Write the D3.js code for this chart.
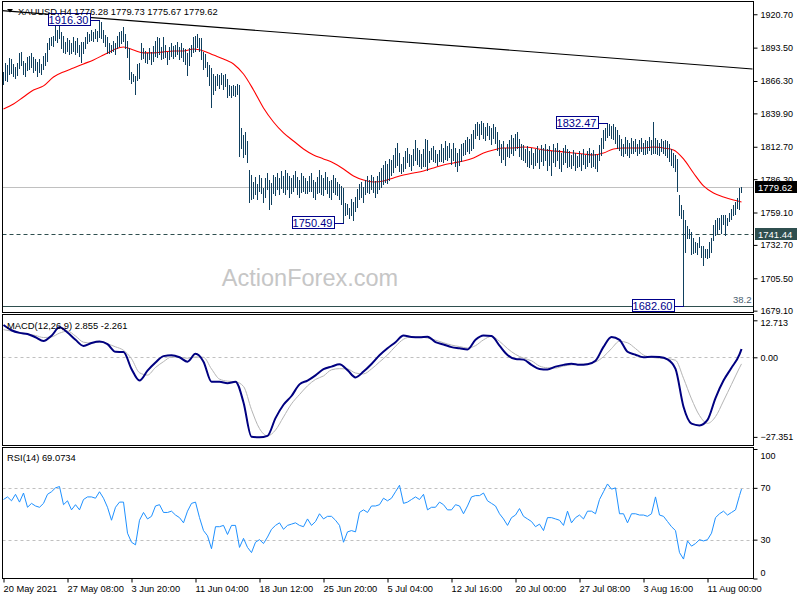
<!DOCTYPE html>
<html><head><meta charset="utf-8">
<script src="https://cdn.jsdelivr.net/npm/d3@7"></script>
<style>
html,body{margin:0;padding:0;background:#fff;}
svg{display:block;}
</style></head><body>
<svg id="c" width="800" height="600"></svg>
<script>
// ---------------- DATA ----------------
const symbolTitle = "XAUUSD,H4";
const lastOHLC = [1776.28, 1779.73, 1775.67, 1779.62];

// H4 bar highs / lows (one entry per bar)
const highs = [
1874,1881,1879,1885,1884,1880,1878,1881,1889,1890,
1883,1881,1886,1887,1889,1886,1884,1882,1884,1880,
1887,1889,1897,1901,1902,1903,1912,1908,1913,1906,
1903,1898,1901,1900,1897,1902,1899,1901,1896,1898,
1898,1902,1906,1905,1908,1906,1909,1907,1916.3,1914,
1908,1904,1902,1897,1896,1899,1897,1903,1906,1907,
1910,1905,1899,1893,1874,1872,1870,1880,1881,1897,
1893,1891,1889,1893,1890,1895,1899,1902,1901,1894,
1902,1896,1890,1894,1897,1895,1896,1898,1894,1897,
1893,1892,1889,1893,1896,1902,1903,1905,1901,1901,
1890,1888,1882,1879,1877,1872,1870,1872,1871,1873,
1871,1872,1868,1863,1862,1863,1862,1864,1863,1828,
1822,1825,1817,1794,1790,1784,1788,1782,1790,1787,
1779,1787,1791,1786,1783,1790,1788,1791,1787,1793,
1789,1794,1791,1789,1787,1790,1793,1788,1786,1791,
1789,1787,1785,1789,1791,1786,1784,1788,1794,1790,
1787,1792,1788,1785,1786,1790,1787,1784,1782,1781,
1779,1767,1766,1763,1770,1768,1772,1778,1782,1784,
1780,1786,1789,1786,1790,1788,1785,1789,1792,1795,
1798,1801,1799,1803,1802,1806,1812,1816,1808,1799,
1804,1809,1812,1807,1806,1811,1818,1812,1810,1807,
1811,1819,1818,1809,1812,1813,1810,1807,1810,1815,
1812,1817,1813,1816,1811,1816,1812,1808,1811,1815,
1816,1818,1821,1819,1823,1826,1831,1833,1831,1834,
1832,1829,1832,1830,1828,1831,1829,1825,1818,1815,
1817,1812,1815,1818,1822,1820,1823,1825,1819,1815,
1814,1811,1813,1809,1812,1808,1811,1813,1810,1814,
1812,1815,1811,1813,1809,1815,1812,1816,1810,1808,
1812,1814,1811,1809,1806,1810,1808,1805,1809,1807,
1811,1806,1809,1812,1808,1810,1807,1806,1814,1820,
1826,1828,1832.47,1831,1830,1831,1829,1826,1822,1819,
1815,1821,1818,1816,1820,1817,1819,1815,1818,1820,
1816,1818,1817,1821,1818,1833,1820,1818,1816,1819,
1817,1818,1817,1815,1811,1808,1806,1803,1773,1765,
1761,1753,1748,1746,1743,1738,1735,1734,1739,1732,
1732,1729,1729,1735,1738,1749,1753,1755,1755,1757,
1757,1757,1755,1759,1762,1765,1768,1771,1779,1779.73
];
const lows = [
1864,1867,1866,1872,1873,1870,1869,1871,1877,1879,
1872,1870,1875,1876,1878,1874,1875,1870,1874,1872,
1876,1879,1883,1892,1896,1895,1900,1898,1901,1893,
1890,1889,1891,1888,1889,1891,1888,1890,1887,1882,
1889,1893,1897,1899,1900,1899,1901,1899,1902,1901,
1898,1895,1889,1889,1890,1891,1888,1893,1895,1897,
1899,1893,1886,1868,1865,1866,1856,1867,1869,1884,
1885,1882,1881,1884,1880,1883,1887,1886,1888,1884,
1885,1886,1880,1884,1887,1885,1887,1888,1884,1886,
1883,1880,1871,1879,1887,1890,1891,1894,1891,1884,
1876,1878,1870,1863,1845,1856,1859,1863,1861,1864,
1860,1862,1853,1855,1853,1855,1854,1856,1805,1812,
1804,1807,1800,1768,1770,1771,1774,1770,1777,1775,
1768,1772,1778,1762,1766,1775,1773,1778,1774,1779,
1776,1774,1778,1772,1775,1777,1780,1774,1772,1776,
1777,1775,1775,1777,1777,1772,1770,1775,1776,1774,
1773,1778,1775,1772,1770,1776,1774,1773,1770,1766,
1750.49,1757,1758,1755,1757,1753,1760,1764,1770,1772,
1768,1774,1776,1775,1778,1776,1772,1775,1778,1780,
1782,1784,1783,1786,1790,1792,1796,1798,1793,1791,
1793,1795,1800,1797,1794,1798,1802,1799,1797,1795,
1797,1797,1794,1800,1803,1801,1800,1798,1801,1801,
1800,1803,1802,1804,1799,1802,1797,1793,1798,1801,
1806,1807,1809,1808,1810,1812,1820,1822,1819,1823,
1820,1818,1822,1819,1815,1820,1816,1810,1806,1800,
1803,1798,1805,1804,1808,1806,1810,1812,1805,1803,
1802,1800,1797,1796,1799,1795,1798,1800,1795,1801,
1798,1802,1794,1798,1790,1800,1797,1802,1795,1793,
1799,1800,1796,1797,1795,1798,1794,1796,1797,1794,
1799,1795,1797,1800,1796,1797,1795,1793,1802,1806,
1812,1818,1821,1822,1820,1819,1816,1812,1810,1806,
1805,1808,1806,1804,1808,1808,1809,1806,1808,1809,
1807,1807,1808,1810,1807,1808,1808,1807,1806,1809,
1808,1806,1804,1801,1798,1796,1793,1777,1757,1755,
1682.6,1727,1738,1738,1725,1726,1727,1725,1731,1723,
1716,1723,1722,1723,1727,1737,1741,1742,1746,1742,
1750,1741,1749,1752,1754,1757,1758,1763,1762,1775.67
];

// red moving average, one value every 5 bars (last one = last bar)
const maStep = 5;
const maValues = [
1843.5,1847.6,1853.3,1859.0,1862.3,1869.6,1873.7,1876.9,1880.2,1883.5,
1887.5,1891.6,1894.0,1891.6,1889.2,1889.2,1890.0,1890.8,1890.8,1892.4,
1890.8,1887.5,1884.3,1880.2,1872.0,1859.0,1844.3,1832.9,1824.0,1817.4,
1810.9,1806.0,1802.8,1799.5,1794.6,1788.9,1785.6,1784.0,1784.8,1787.3,
1789.7,1791.3,1793.0,1795.4,1797.9,1799.5,1801.1,1803.6,1807.6,1810.1,
1811.7,1811.7,1812.5,1811.7,1810.1,1809.3,1808.5,1807.6,1806.8,1806.0,
1807.6,1810.9,1811.7,1811.7,1811.7,1812.5,1811.7,1810.1,1802.8,1791.3,
1780.8,1775.0,1771.8,1769.3,1767.7
];

// MACD(12,26,9): main and signal, one value every 4 bars (last = last bar)
const macdStep = 4;
const macdValues = [
11.1,9.3,8.4,8.0,6.9,5.6,7.4,10.3,8.5,6.0,
3.9,4.9,5.4,4.5,1.9,1.8,-4.0,-8.0,-4.6,-1.8,
0.4,0.7,0.0,-1.5,1.2,-1.5,-8.4,-8.4,-8.9,-8.4,
-15.5,-27.3,-27.5,-27.0,-20.9,-16.3,-13.3,-9.3,-8.0,-6.2,
-4.1,-3.2,-2.4,-4.4,-6.9,-4.9,-2.3,0.7,3.1,5.2,
7.5,7.0,6.9,7.1,5.2,4.4,3.5,3.1,2.7,6.0,
7.5,7.3,4.0,0.8,-0.6,-0.8,-2.6,-4.0,-4.2,-3.2,
-2.6,-2.2,-2.6,-2.4,-1.2,3.6,7.0,6.0,1.9,0.9,
0.0,0.2,0.1,-0.7,-4.0,-17.0,-22.8,-23.4,-21.5,-14.0,
-8.0,-3.6,1.0,2.855
];
const signalValues = [
9.5,9.0,8.6,8.0,7.5,6.8,7.0,8.3,9.0,7.3,
5.2,4.9,5.2,4.6,3.6,2.4,-0.5,-5.3,-6.1,-3.5,
-1.5,0.1,0.0,-0.3,0.1,0.0,-4.0,-7.5,-8.2,-8.4,
-10.0,-18.0,-24.5,-27.0,-25.0,-20.5,-16.0,-12.8,-9.8,-7.6,
-6.4,-4.3,-3.9,-4.0,-5.4,-5.7,-4.0,-1.6,0.8,3.8,
6.2,7.0,7.0,6.6,5.9,5.0,4.2,3.7,3.2,4.0,
6.0,7.2,5.5,3.0,1.0,-0.3,-1.2,-3.0,-3.6,-3.7,
-3.0,-2.6,-2.4,-2.2,-1.6,0.2,3.0,5.5,5.0,3.0,
0.8,0.0,-0.3,-0.5,-1.0,-7.2,-14.3,-20.0,-22.7,-20.4,
-15.0,-9.3,-3.6,-2.261
];

// RSI(14), one value every 2 bars (last = last bar)
const rsiStep = 2;
const rsiValues = [
61,63,60,65,59,66,55,58,56,55,
58,65,67,70,71,57,60,53,57,53,
61,63,63,62,67,62,55,45,55,59,
59,35,28,26,45,51,46,48,56,57,
51,51,52,49,47,43,52,58,59,47,
37,33,23,40,40,41,34,41,41,24,
31,24,20,28,30,27,32,38,41,43,
38,41,42,43,41,40,46,41,44,50,
46,48,48,45,41,28,36,37,36,51,
53,51,56,56,57,62,60,62,67,72,
58,59,61,63,61,65,53,55,55,59,
57,53,53,57,56,50,56,63,64,64,
66,60,58,56,50,46,41,47,49,54,
48,46,44,40,42,37,47,47,46,45,
41,52,43,47,49,46,52,52,50,61,
67,73,69,70,50,50,43,50,50,49,
49,48,50,63,49,48,44,40,37,20,
15,29,25,27,30,29,30,35,47,50,
52,49,51,53,64,69.0734
];

const priceTicks = [1920.70,1893.50,1866.30,1839.90,1812.70,1786.30,1759.10,1732.70,1705.50,1679.10];
const macdTicks = [12.713, 0, -27.351];
const rsiTicks = [100, 70, 30, 0];
const rsiLevels = [70, 30];
const timeTickBars = [0,32,64,96,128,160,192,224,256,288,320,352];
const timeTickLabels = ["20 May 2021","27 May 08:00","3 Jun 20:00","11 Jun 04:00","18 Jun 12:00","25 Jun 20:00","5 Jul 04:00","12 Jul 16:00","20 Jul 00:00","27 Jul 08:00","3 Aug 16:00","11 Aug 00:00"];
const annotationBars = [48, 170, 302, 340];
const annotationPrices = [1916.30, 1750.49, 1832.47, 1682.60];
const trendBars = [-1.5, 374.5];
const trendPrices = [1923.7, 1876.1];
const currentPrice = 1779.62;
const supportLevel = 1741.44;
const fibLabel = "38.2";
const fibPrice = 1682.60;
const macdLast = [2.855, -2.261];
const rsiLast = 69.0734;
const watermark = "ActionForex.com";

// ---------------- LAYOUT ----------------
const F = '"Liberation Sans", Arial, Helvetica, sans-serif';
const svg = d3.select("#c").attr("font-family", F);
const L = 2.5, R = 753.5;
const P = { main:[1.5, 312.5], macd:[314.5, 445.5], rsi:[447.5, 578.5] };
const nBars = highs.length;

const x = d3.scaleLinear().domain([0, nBars - 1]).range([3.5, 3.5 + 2 * (nBars - 1)]);
const yP = d3.scaleLinear().domain([1677.6, 1931.1]).range([P.main[1], P.main[0]]);
const yM = d3.scaleLinear().domain([-30.31, 14.71]).range([P.macd[1], P.macd[0]]);
const yR = d3.scaleLinear().domain([0, 100]).range([P.rsi[1], 449]);

const sampled = (arr, step) => arr.map((v, k) => ({ i: Math.min(k * step, nBars - 1), v }));

const defs = svg.append("defs");
Object.entries(P).forEach(([k, [t, b]]) => {
  defs.append("clipPath").attr("id", "clip-" + k)
    .append("rect").attr("x", L).attr("y", t).attr("width", R - L).attr("height", b - t);
});

svg.append("rect").attr("width", 800).attr("height", 600).attr("fill", "#fff");

// ---------------- MAIN PANEL ----------------
const gMain = svg.append("g").attr("clip-path", "url(#clip-main)");

gMain.append("text").attr("x", 310).attr("y", 286).attr("text-anchor", "middle")
  .attr("font-size", 23.5).attr("fill", "#c6c6c6").text(watermark);

// fib line
gMain.append("line").attr("x1", L).attr("x2", R)
  .attr("y1", Math.round(yP(fibPrice)) + 0.5).attr("y2", Math.round(yP(fibPrice)) + 0.5)
  .attr("stroke", "#2f4f4f").attr("stroke-width", 1);
gMain.append("text").attr("x", R - 2).attr("y", yP(fibPrice) - 3).attr("text-anchor", "end")
  .attr("font-size", 9.5).attr("fill", "#4a6070").text(fibLabel);

// current price line
gMain.append("line").attr("x1", L).attr("x2", R)
  .attr("y1", Math.round(yP(currentPrice)) + 0.5).attr("y2", Math.round(yP(currentPrice)) + 0.5)
  .attr("stroke", "#c0c0c0");
// support dashed line
gMain.append("line").attr("x1", L).attr("x2", R)
  .attr("y1", Math.round(yP(supportLevel)) + 0.5).attr("y2", Math.round(yP(supportLevel)) + 0.5)
  .attr("stroke", "#2f4f4f").attr("stroke-dasharray", "4,3");

// moving average (drawn under the bars)
gMain.append("path").datum(sampled(maValues, maStep))
  .attr("d", d3.line().x(d => x(d.i)).y(d => yP(d.v)).curve(d3.curveMonotoneX))
  .attr("fill", "none").attr("stroke", "#ff0000").attr("stroke-width", 1.1);

// bars
gMain.append("g").selectAll("line").data(highs).join("line")
  .attr("x1", (d, i) => x(i)).attr("x2", (d, i) => x(i))
  .attr("y1", d => Math.round(yP(d))).attr("y2", (d, i) => Math.round(yP(lows[i])) + 1)
  .attr("stroke", "#0f3f5e").attr("stroke-width", 1);

// trendline
gMain.append("line")
  .attr("x1", x(trendBars[0])).attr("y1", yP(trendPrices[0]))
  .attr("x2", x(trendBars[1])).attr("y2", yP(trendPrices[1]))
  .attr("stroke", "#000").attr("stroke-width", 1.2);

// annotations
annotationBars.forEach((b, k) => {
  const bx = x(b), py = yP(annotationPrices[k]);
  const g = gMain.append("g");
  g.append("line").attr("x1", bx - 10).attr("x2", bx + 0.5).attr("y1", Math.round(py) + 0.5).attr("y2", Math.round(py) + 0.5)
    .attr("stroke", "#00008b");
  g.append("rect").attr("x", Math.round(bx - 52) + 0.5).attr("y", Math.round(py - 7) + 0.5)
    .attr("width", 42).attr("height", 12).attr("fill", "#fff").attr("stroke", "#00008b");
  g.append("text").attr("x", bx - 31).attr("y", Math.round(py - 7) + 10.5).attr("text-anchor", "middle")
    .attr("font-size", 11).attr("fill", "#00008b").text(annotationPrices[k].toFixed(2));
});

// header
svg.append("path").attr("d", "M7,9 L13,9 L10,12.5 Z").attr("fill", "#000");
svg.append("text").attr("x", 18).attr("y", 14.5).attr("font-size", 9.4).attr("fill", "#000")
  .text(symbolTitle + "  " + lastOHLC.map(v => v.toFixed(2)).join(" "));

// ---------------- MACD PANEL ----------------
const gMacd = svg.append("g").attr("clip-path", "url(#clip-macd)");
gMacd.append("line").attr("x1", L).attr("x2", R)
  .attr("y1", Math.round(yM(0)) + 0.5).attr("y2", Math.round(yM(0)) + 0.5)
  .attr("stroke", "#c0c0c0").attr("stroke-dasharray", "3,3");
gMacd.append("path").datum(sampled(signalValues, macdStep))
  .attr("d", d3.line().x(d => x(d.i)).y(d => yM(d.v)).curve(d3.curveMonotoneX))
  .attr("fill", "none").attr("stroke", "#b4b4b4").attr("stroke-width", 1);
gMacd.append("path").datum(sampled(macdValues, macdStep))
  .attr("d", d3.line().x(d => x(d.i)).y(d => yM(d.v)).curve(d3.curveMonotoneX))
  .attr("fill", "none").attr("stroke", "#000080").attr("stroke-width", 2);
svg.append("text").attr("x", 7).attr("y", 328.5).attr("font-size", 9.4).attr("fill", "#000")
  .text("MACD(12,26,9) " + macdLast[0].toFixed(3) + " " + macdLast[1].toFixed(3));

// ---------------- RSI PANEL ----------------
const gRsi = svg.append("g").attr("clip-path", "url(#clip-rsi)");
rsiLevels.forEach(lv => {
  gRsi.append("line").attr("x1", L).attr("x2", R)
    .attr("y1", Math.round(yR(lv)) + 0.5).attr("y2", Math.round(yR(lv)) + 0.5)
    .attr("stroke", "#c0c0c0").attr("stroke-dasharray", "3,3");
});
gRsi.append("path").datum(sampled(rsiValues, rsiStep))
  .attr("d", d3.line().x(d => x(d.i)).y(d => yR(d.v)))
  .attr("fill", "none").attr("stroke", "#1e90ff").attr("stroke-width", 1);
svg.append("text").attr("x", 7).attr("y", 461).attr("font-size", 9.4).attr("fill", "#000")
  .text("RSI(14) " + rsiLast.toFixed(4));

// ---------------- FRAMES ----------------
Object.values(P).forEach(([t, b]) => {
  svg.append("rect").attr("x", L).attr("y", t).attr("width", R - L).attr("height", b - t)
    .attr("fill", "none").attr("stroke", "#000").attr("stroke-width", 1);
});

// ---------------- AXES ----------------
function rightAxis(scale, ticks, fmt, top, bottom, clamp) {
  const g = svg.append("g").attr("transform", `translate(${R},0)`)
    .call(d3.axisRight(scale).tickValues(ticks).tickFormat(fmt).tickSize(4).tickPadding(3));
  g.select(".domain").remove();
  g.attr("font-family", F).attr("font-size", 9);
  g.selectAll(".tick line").attr("stroke", "#000");
  g.selectAll(".tick text").attr("fill", "#000")
    .attr("dy", d => {
      if (!clamp) return "0.32em";
      const y = scale(d), yc = Math.max(top + 8, Math.min(bottom - 6, y));
      return (yc - y + 3) + "px";
    });
  return g;
}
rightAxis(yP, priceTicks, d3.format(".2f"), P.main[0], P.main[1], false);
rightAxis(yM, macdTicks, d => d === 0 ? "0.00" : d3.format(".3f")(d), P.macd[0], P.macd[1], true);
rightAxis(yR, rsiTicks, d3.format("d"), P.rsi[0], P.rsi[1], true);

// price boxes on the axis
[[currentPrice, "#000"], [supportLevel, "#2f4f4f"]].forEach(([p, c]) => {
  const yy = Math.round(yP(p));
  svg.append("rect").attr("x", 755).attr("y", yy - 6).attr("width", 42).attr("height", 12).attr("fill", c);
  svg.append("text").attr("x", 758).attr("y", yy + 3.5).attr("font-size", 9.5).attr("fill", "#fff").text(p.toFixed(2));
});

// time axis
const gx = svg.append("g").attr("transform", `translate(0,${P.rsi[1]})`)
  .call(d3.axisBottom(x).tickValues(timeTickBars).tickFormat((d, i) => timeTickLabels[i]).tickSize(4).tickPadding(3));
gx.select(".domain").remove();
gx.attr("font-family", F).attr("font-size", 9.3);
gx.selectAll(".tick line").attr("stroke", "#000");
gx.selectAll(".tick text").attr("fill", "#000").attr("text-anchor", "start").attr("dx", -0.5);
</script>
</body></html>
